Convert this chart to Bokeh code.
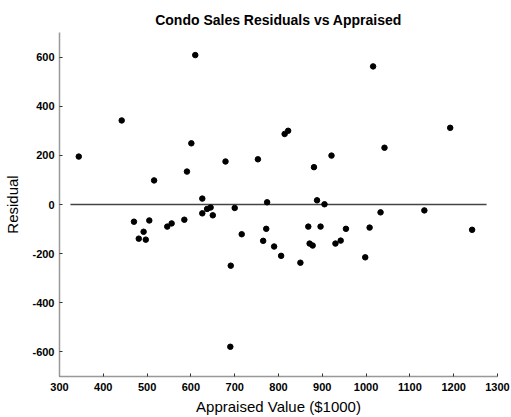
from bokeh.plotting import figure
from bokeh.models import Range1d, FixedTicker, PrintfTickFormatter
from bokeh.embed import file_html
from bokeh.resources import INLINE

# Appraised value ($1000) and regression residual for each condo sale
appraised = [344, 442, 470, 481, 492, 497, 505, 516, 546, 556, 585, 591, 601,
             610, 626, 626, 637, 645, 650, 679, 691, 690, 700, 716, 753, 765,
             772, 774, 790, 806, 814, 822, 850, 868, 871, 878, 881, 888, 896,
             905, 921, 930, 942, 954, 998, 1008, 1016, 1033, 1042, 1133, 1192,
             1242]
residual = [195, 342, -70, -139, -111, -143, -65, 98, -90, -77, -62, 134, 249,
            608, 24, -36, -18, -12, -44, 175, -249, -579, -14, -121, 184, -148,
            -99, 9, -171, -209, 287, 300, -237, -90, -159, -167, 152, 17, -90,
            1, 199, -159, -147, -99, -215, -94, 562, -32, 231, -24, 312, -103]

x_ticks = [300, 400, 500, 600, 700, 800, 900, 1000, 1100, 1200, 1300]
y_ticks = [-600, -400, -200, 0, 200, 400, 600]

# zero reference line extent
zero_x = [325, 1275]
zero_y = [0, 0]

p = figure(width=511, height=417, output_backend="svg", toolbar_location=None,
           x_range=Range1d(300, 1300), y_range=Range1d(-700, 700),
           title="Condo Sales Residuals vs Appraised",
           x_axis_label="Appraised Value ($1000)", y_axis_label="Residual",
           min_border_left=59, min_border_right=14, min_border_top=32,
           min_border_bottom=41)

p.outline_line_color = None
p.grid.visible = False
p.background_fill_color = "white"
p.border_fill_color = "white"

p.title.align = "center"
p.title.text_font = "Liberation Sans"
p.title.text_font_size = "14px"
p.title.text_font_style = "bold"
p.title.text_color = "black"
p.title.offset = 0

for ax in (p.xaxis[0], p.yaxis[0]):
    ax.axis_line_color = "#999999"
    ax.axis_line_width = 1.5
    ax.major_tick_in = 3
    ax.major_tick_out = 0
    ax.major_tick_line_color = "#333333"
    ax.minor_tick_line_color = None
    ax.major_label_text_font = "Liberation Sans"
    ax.major_label_text_font_style = "bold"
    ax.major_label_text_font_size = "11px"
    ax.major_label_text_color = "black"
    ax.axis_label_text_font = "Liberation Sans"
    ax.axis_label_text_font_style = "normal"
    ax.axis_label_text_font_size = "15px"
    ax.axis_label_text_color = "black"

p.xaxis.ticker = FixedTicker(ticks=x_ticks)
p.yaxis.ticker = FixedTicker(ticks=y_ticks)
p.xaxis.formatter = PrintfTickFormatter(format="%d")
p.yaxis.formatter = PrintfTickFormatter(format="%d")
p.xaxis.major_label_standoff = 6
p.yaxis.major_label_standoff = 5
p.xaxis.axis_label_standoff = 4
p.yaxis.axis_label_standoff = 8

p.line(zero_x, zero_y, line_color="#444444", line_width=1.5)
p.scatter(appraised, residual, size=5.5, fill_color="black", line_color="black")

open("out.html", "w").write(file_html(p, INLINE))
